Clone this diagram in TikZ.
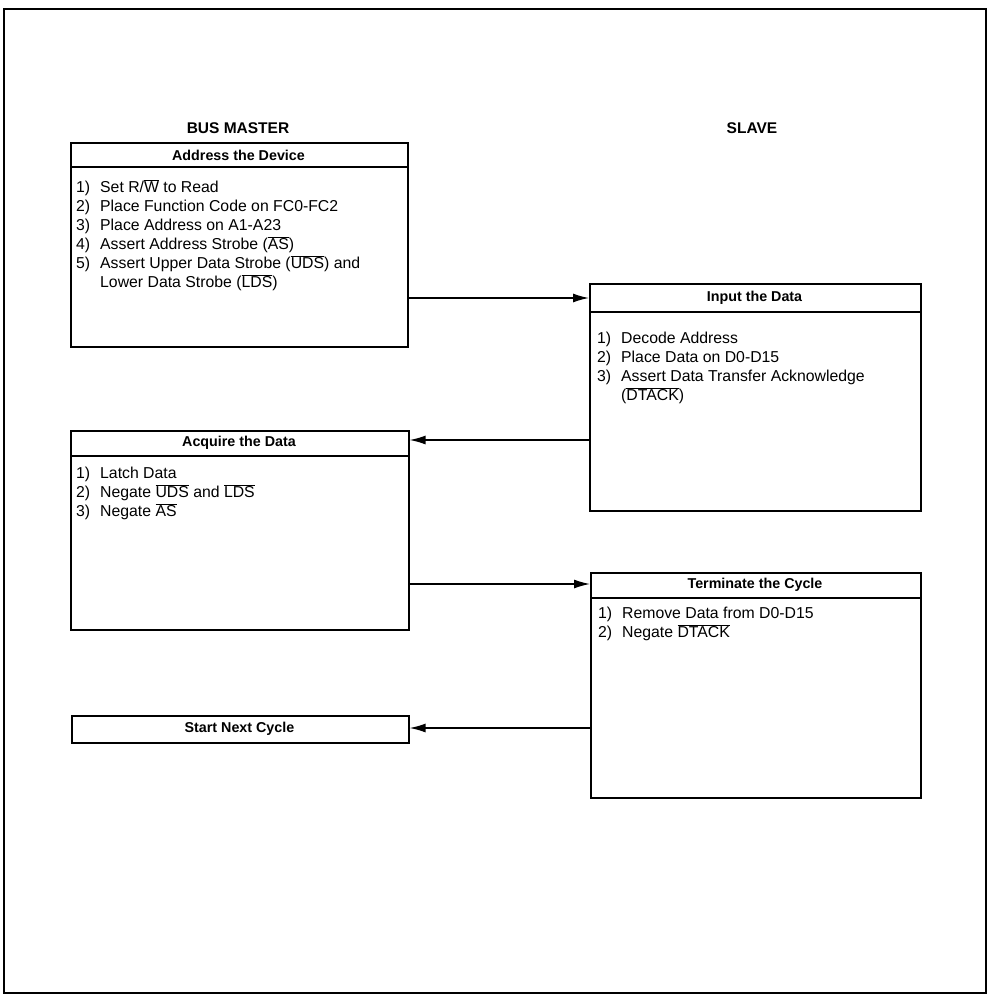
\documentclass[tikz,border=0pt]{standalone}
\usepackage{fontspec}
\setmainfont{Liberation Sans}
\usetikzlibrary{arrows.meta}
\newcommand{\ovl}[1]{$\overline{\mbox{#1}}$}
\newcommand{\itm}[1]{\makebox[24pt][l]{#1}}
\begin{document}
\begin{tikzpicture}[x=1pt,y=-1pt,
  frame/.style={line width=1.3pt},
  boxshape/.style={draw,line width=1.6pt,rectangle,inner sep=0,anchor=north west},
  hdr/.style={font=\fontsize{14.3}{17}\selectfont\bfseries,inner sep=0},
  ttl/.style={font=\fontsize{15.5}{18}\selectfont\bfseries,inner sep=0},
  items/.style={font=\fontsize{15.8}{19}\selectfont,align=left,inner sep=0,anchor=north west},
  arr/.style={line width=1.4pt,-{Latex[length=16pt,width=9pt]}}]
\useasboundingbox (0,0) rectangle (990,1000);
\draw[frame] (4,9) rectangle (986,993);

\node[ttl] (tm) at (238,128) {BUS MASTER};
\node[ttl] (ts) at (752,128) {SLAVE};

% Box 1
\node[boxshape,minimum width=337,minimum height=204] (b1) at (70,142) {};
\draw[line width=1.6pt] (70,167) -- (407,167);
\node[hdr] (h1) at (238.5,155) {Address the Device};
\node[items] (i1) at (76,178.7) {\strut\itm{1)}Set R/\ovl{W} to Read\\
\strut\itm{2)}Place Function Code on FC0-FC2\\
\strut\itm{3)}Place Address on A1-A23\\
\strut\itm{4)}Assert Address Strobe (\ovl{AS})\\
\strut\itm{5)}Assert Upper Data Strobe (\ovl{UDS}) and\\
\strut\hspace*{24pt}Lower Data Strobe (\ovl{LDS})};

% Box 2
\node[boxshape,minimum width=331,minimum height=227] (b2) at (589,283) {};
\draw[line width=1.6pt] (589,312) -- (920,312);
\node[hdr] (h2) at (754.5,297.5) {Input the Data};
\node[items] (i2) at (597,329.7) {\strut\itm{1)}Decode Address\\
\strut\itm{2)}Place Data on D0-D15\\
\strut\itm{3)}Assert Data Transfer Acknowledge\\
\strut\hspace*{24pt}(\ovl{DTACK})};

% Box 3
\node[boxshape,minimum width=338,minimum height=199] (b3) at (70,430) {};
\draw[line width=1.6pt] (70,456) -- (408,456);
\node[hdr] (h3) at (239,443) {Acquire the Data};
\node[items] (i3) at (76,464.7) {\strut\itm{1)}Latch Data\\
\strut\itm{2)}Negate \ovl{UDS} and \ovl{LDS}\\
\strut\itm{3)}Negate \ovl{AS}};

% Box 4
\node[boxshape,minimum width=330,minimum height=225] (b4) at (590,572) {};
\draw[line width=1.6pt] (590,598) -- (920,598);
\node[hdr] (h4) at (755,585) {Terminate the Cycle};
\node[items] (i4) at (598,604.7) {\strut\itm{1)}Remove Data from D0-D15\\
\strut\itm{2)}Negate \ovl{DTACK}};

% Box 5
\node[boxshape,minimum width=337,minimum height=27] (b5) at (71,715) {};
\node[hdr] (h5) at (239.5,728.5) {Start Next Cycle};

% connectors
\coordinate (y1) at (0,298);
\coordinate (y2) at (0,440);
\coordinate (y3) at (0,584);
\coordinate (y4) at (0,728);
\draw[arr] (b1.east |- y1) -- (b2.west |- y1);
\draw[arr] (b2.west |- y2) -- (b3.east |- y2);
\draw[arr] (b3.east |- y3) -- (b4.west |- y3);
\draw[arr] (b4.west |- y4) -- (b5.east |- y4);
\end{tikzpicture}
\end{document}
